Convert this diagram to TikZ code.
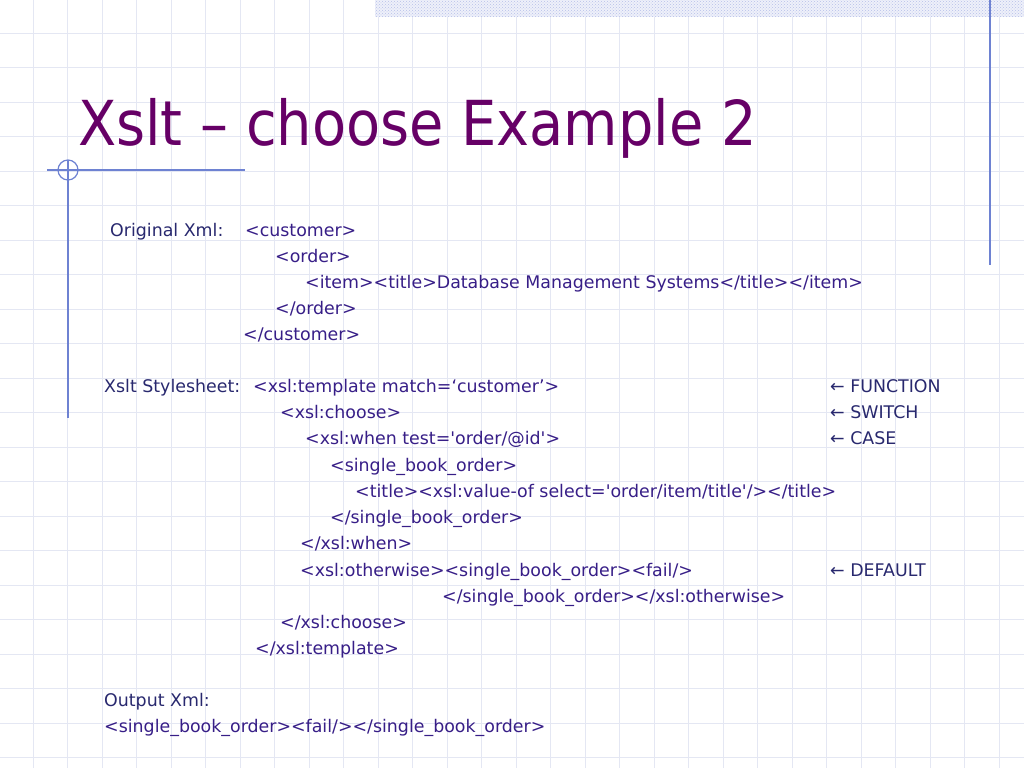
\documentclass[tikz,border=0pt]{standalone}
\usepackage{fontspec}
\setmainfont{DejaVu Sans}
\newfontfamily\titlefont{DejaVu Sans Condensed}
\usetikzlibrary{patterns}
\definecolor{titlepurple}{RGB}{102,0,102}
\definecolor{labelblue}{RGB}{40,40,110}
\definecolor{tagblue}{RGB}{55,30,135}
\definecolor{gridblue}{RGB}{228,231,243}
\definecolor{rulerblue}{RGB}{110,130,210}
\newcommand{\sq}{\textquotesingle}
\tikzstyle{label} = [anchor=base west, inner sep=0pt, text=labelblue, font=\fontsize{17.4}{20}\selectfont]
\tikzstyle{tag} = [label, text=tagblue]
\tikzstyle{ruler} = [draw=rulerblue, line width=1.2]

\begin{document}
\begin{tikzpicture}[x=1pt,y=-1pt]
    \useasboundingbox (0,0) rectangle (1024,768);
    % Background grid
    \foreach \g in {0,...,29} {
        \draw [gridblue, line width=0.8] (33+34.5*\g,0) -- (33+34.5*\g,768);
        \draw [gridblue, line width=0.8] (0,33+34.5*\g) -- (1024,33+34.5*\g);
    }
    \fill [rulerblue!12] (375,0) rectangle (1024,17);
    \fill [pattern=crosshatch dots, pattern color=rulerblue!50] (375,0) rectangle (1024,17);
    \draw [ruler] (990,0) -- (990,265);
    \draw [ruler] (47,170) -- (245,170);
    \draw [ruler] (68,160) -- (68,418);
    \draw [ruler] (68,170) circle (10);
    % Title
    \node [anchor=base west, inner sep=0pt, text=titlepurple, font=\titlefont\fontsize{62}{66}\selectfont] (title) at (78,145) {Xslt – choose Example 2};
    % Original xml
    \node [label] (orig) at (110,236) {Original Xml:};
    \node [tag] (customer) at (245,236) {<customer>};
    \node [tag] (order) at (275,262) {<order>};
    \node [tag] (item) at (305,288) {<item><title>Database Management Systems</title></item>};
    \node [tag] (orderend) at (275,314) {</order>};
    \node [tag] (customerend) at (243,340) {</customer>};
    % Stylesheet
    \node [label] (sheet) at (104,392) {Xslt Stylesheet:};
    \node [tag] (template) at (253,392) {<xsl:template match=‘customer’>};
    \node [tag] (choose) at (280,418) {<xsl:choose>};
    \node [tag] (when) at (305,444) {<xsl:when test=\sq order/@id\sq>};
    \node [tag] (single) at (330,471) {<single\_book\_order>};
    \node [tag] (valueof) at (355,497) {<title><xsl:value-of select=\sq order/item/title\sq/></title>};
    \node [tag] (singleend) at (330,523) {</single\_book\_order>};
    \node [tag] (whenend) at (300,549) {</xsl:when>};
    \node [tag] (otherwise) at (300,576) {<xsl:otherwise><single\_book\_order><fail/>};
    \node [tag] (otherwiseend) at (442,602) {</single\_book\_order></xsl:otherwise>};
    \node [tag] (chooseend) at (280,628) {</xsl:choose>};
    \node [tag] (templateend) at (255,654) {</xsl:template>};
    % Notes
    \node [label] (function) at (830,392) {← FUNCTION};
    \node [label] (switch) at (830,418) {← SWITCH};
    \node [label] (case) at (830,444) {← CASE};
    \node [label] (default) at (830,576) {← DEFAULT};
    % Output
    \node [label] (output) at (104,706) {Output Xml:};
    \node [tag] (result) at (104,732) {<single\_book\_order><fail/></single\_book\_order>};
\end{tikzpicture}
\end{document}
